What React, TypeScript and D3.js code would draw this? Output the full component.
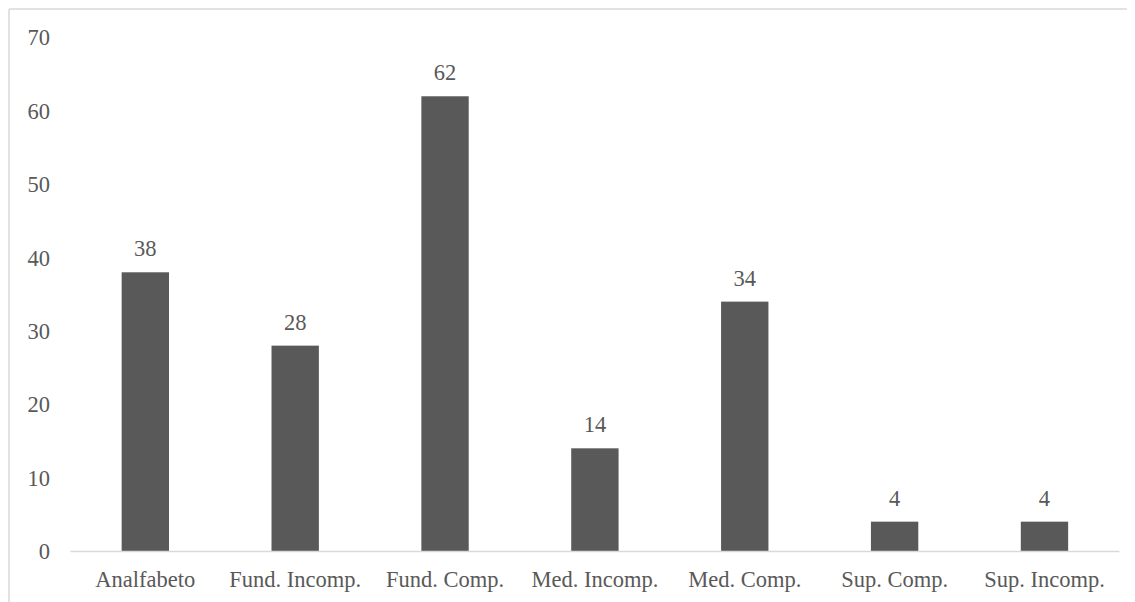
import React from "react";
import * as d3 from "d3";

const categories = [
  "Analfabeto",
  "Fund. Incomp.",
  "Fund. Comp.",
  "Med. Incomp.",
  "Med. Comp.",
  "Sup. Comp.",
  "Sup. Incomp.",
];
const values = [38, 28, 62, 14, 34, 4, 4];
const yTicks = [0, 10, 20, 30, 40, 50, 60, 70];

const FONT = "Liberation Serif";
const FS = 22.5;
const TEXT = "#595959";
const BAR = "#595959";
const GRID = "#d9d9d9";

export default function App() {
  const x = d3.scaleBand<string>().domain(categories).range([70.4, 1119.4]).padding(0);
  const y = d3.scaleLinear().domain([0, 70]).range([551, 37.6]);
  const barW = x.bandwidth() * 0.316;

  return (
    <svg width={1127} height={594} style={{ display: "block" }}>
      <g transform="translate(-8,-8)">
        <line x1={9} x2={9} y1={9} y2={610} stroke={GRID} strokeWidth={1.5} />
        <line x1={9} x2={1140} y1={9} y2={9} stroke={GRID} strokeWidth={1.5} />
        {yTicks.map((t) => (
          <text
            key={t}
            x={50}
            y={y(t)}
            dy="0.35em"
            textAnchor="end"
            fontFamily={FONT}
            fontSize={FS}
            fill={TEXT}
          >
            {t}
          </text>
        ))}
        {categories.map((c, i) => {
          const cx = (x(c) as number) + x.bandwidth() / 2;
          return (
            <g key={c}>
              <rect
                x={cx - barW / 2}
                y={y(values[i])}
                width={barW}
                height={y(0) - y(values[i])}
                fill={BAR}
              />
              <text
                x={cx}
                y={y(values[i]) - 16}
                textAnchor="middle"
                fontFamily={FONT}
                fontSize={FS}
                fill={TEXT}
              >
                {values[i]}
              </text>
              <text
                x={cx}
                y={587}
                textAnchor="middle"
                fontFamily={FONT}
                fontSize={FS}
                fill={TEXT}
              >
                {c}
              </text>
            </g>
          );
        })}
        <line x1={70.4} x2={1119.4} y1={y(0) + 0.5} y2={y(0) + 0.5} stroke={GRID} strokeWidth={1.5} />
      </g>
    </svg>
  );
}
